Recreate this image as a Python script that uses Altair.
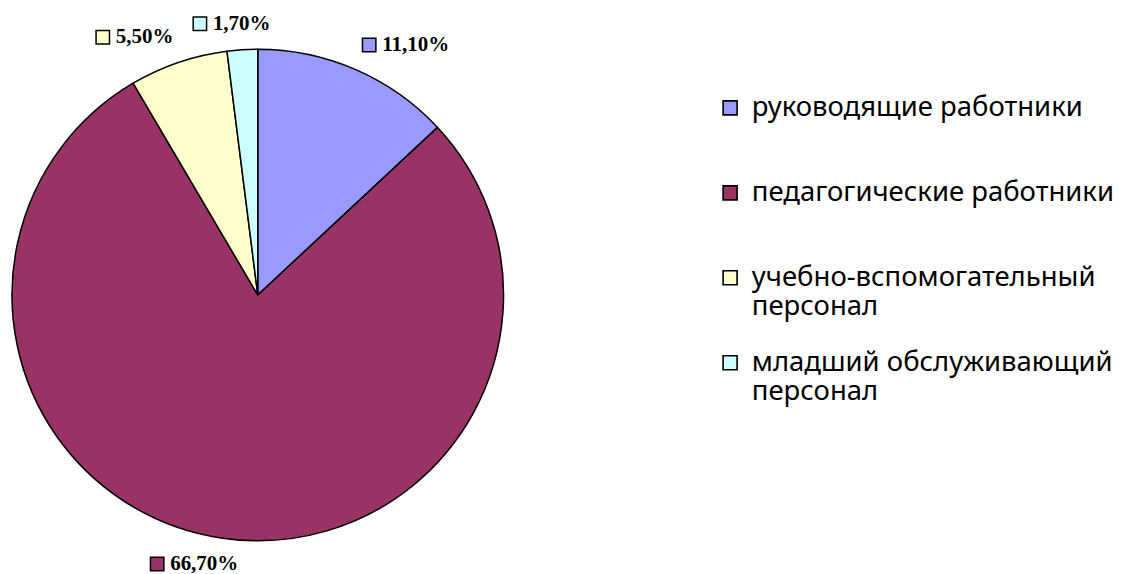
import altair as alt
import pandas as pd

categories = ["руководящие работники", "педагогические работники",
              "учебно-вспомогательный персонал", "младший обслуживающий персонал"]
shares = [11.10, 66.70, 5.50, 1.70]
colors = ["#9999FF", "#993366", "#FFFFCC", "#CCFFFF"]

df = pd.DataFrame({"category": categories, "share": shares, "idx": list(range(len(shares)))})

CX, CY, R = 250, 287, 246   # pie centre and radius (px, plot coords)
RA = 262                     # anchor radius of the outside labels
K = 4                        # label alignment blending factor

color = alt.Color(
    "category:N", sort=categories,
    scale=alt.Scale(domain=categories, range=colors),
    legend=alt.Legend(
        title=None, orient="none", legendX=709, legendY=86,
        symbolType="square", symbolSize=196, symbolStrokeColor="black",
        symbolStrokeWidth=1.6, symbolOpacity=1,
        labelFont="Noto Sans", labelFontSize=27.5, labelColor="black",
        labelLimit=420, labelOffset=8, rowPadding=27, gridAlign="all",
        labelExpr="indexof(datum.label, ' персонал') > 0 ? "
                  "[replace(datum.label, ' персонал', ''), 'персонал'] : datum.label",
    ),
)

base = alt.Chart(df)

pie = base.mark_arc(stroke="black", strokeWidth=1.5, outerRadius=R).encode(
    theta=alt.Theta("share:Q", stack=True),
    order=alt.Order("idx:Q"),
    color=color,
    x=alt.value(CX),
    y=alt.value(CY),
)

lab = (
    base.transform_joinaggregate(total="sum(share)")
    .transform_window(cum="sum(share)", sort=[alt.SortField("idx")], frame=[None, 0])
    .transform_calculate(mid="2*PI*(datum.cum - datum.share/2)/datum.total")
    .transform_calculate(txt="replace(format(datum.share, '.2f'), '.', ',') + '%'")
    .transform_calculate(w="11.5*length(datum.txt) + 20")
    .transform_calculate(sx=f"clamp({K}*sin(datum.mid), -1, 1)")
    .transform_calculate(sy=f"clamp({K}*cos(datum.mid), -1, 1)")
    .transform_calculate(left=f"{CX} + {RA}*sin(datum.mid) + datum.sx*datum.w/2 - datum.w/2")
    .transform_calculate(cy=f"{CY} - {RA}*cos(datum.mid) - datum.sy*10")
    .transform_calculate(sqx="datum.left + 7", tx="datum.left + 20")
)

squares = lab.mark_square(size=180, stroke="black", strokeWidth=1.5, opacity=1).encode(
    x=alt.X("sqx:Q", scale=None, axis=None),
    y=alt.Y("cy:Q", scale=None, axis=None),
    color=alt.Color("category:N", sort=categories,
                    scale=alt.Scale(domain=categories, range=colors), legend=None),
)

texts = lab.mark_text(align="left", baseline="middle", font="Liberation Serif",
                      fontWeight="bold", fontSize=21, color="black").encode(
    x=alt.X("tx:Q", scale=None, axis=None),
    y=alt.Y("cy:Q", scale=None, axis=None),
    text="txt:N",
)

chart = alt.layer(pie, squares, texts).properties(
    width=500, height=558, padding=0
).configure_view(stroke=None)

chart.save("out.html", embed_options={"renderer": "svg", "actions": False})
